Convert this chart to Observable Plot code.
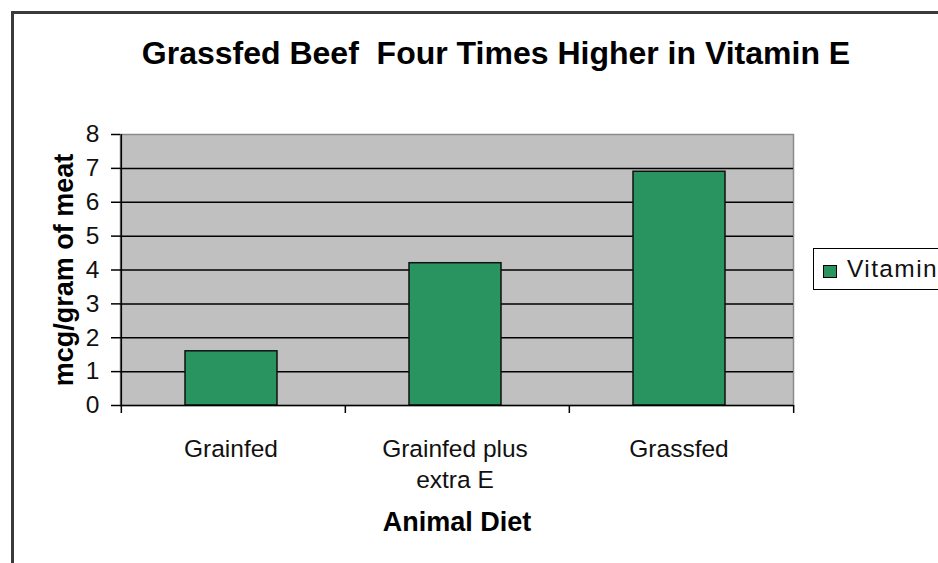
<!DOCTYPE html>
<html>
<head>
<meta charset="utf-8">
<script src="https://cdn.jsdelivr.net/npm/d3@7"></script>
<script src="https://cdn.jsdelivr.net/npm/@observablehq/plot@0.6"></script>
<style>
  body { margin: 0; background: #fff; font-family: "Liberation Sans", Arial, sans-serif; }
  #wrap { position: relative; width: 938px; height: 563px; overflow: hidden; background: #fff; }
  #border { position: absolute; left: 11px; top: 11px; width: 1200px; height: 1200px;
            border-left: 3px solid #3a3a3a; border-top: 3px solid #3a3a3a; box-sizing: border-box; }
  #chart { position: absolute; left: 0; top: 0; }
  #title { position: absolute; left: 0; top: 38px; width: 992px; text-align: center;
           font-weight: bold; font-size: 32px; line-height: 31px; color: #000; white-space: pre; }
  #legend { position: absolute; left: 813px; top: 248px; width: 300px; height: 42px;
            border: 1.5px solid #000; box-sizing: border-box; background: #fff; }
  #legend .sw { position: absolute; left: 9px; top: 16px; width: 14px; height: 13px;
                background: #2a9460; border: 1.5px solid #000; box-sizing: border-box; }
  #legend .lb { position: absolute; left: 33px; top: 7px; font-size: 24.5px; line-height: 26px;
                letter-spacing: 1.4px; color: #111; white-space: nowrap; }
</style>
</head>
<body>
<div id="wrap">
  <div id="chart"></div>
  <div id="border"></div>
  <div id="title"></div>
  <div id="legend"><div class="sw"></div><div class="lb"></div></div>
</div>
<script>
const chartTitle = "Grassfed Beef  Four Times Higher in Vitamin E";
const categories = ["Grainfed", "Grainfed plus extra E", "Grassfed"];
const tickLabels = ["Grainfed", "Grainfed plus\nextra E", "Grassfed"];
const values = [1.6, 4.2, 6.9];
const yTicks = [0, 1, 2, 3, 4, 5, 6, 7, 8];
const xTitle = "Animal Diet";
const yTitle = "mcg/gram of meat";
const seriesName = "Vitamin";

const data = categories.map((c, i) => ({diet: c, value: values[i], label: tickLabels[i]}));

const W = 938, H = 563, mL = 120, mR = 145, mT = 134, mB = 158;
const bw = (W - mL - mR) / categories.length;
const font = "'Liberation Sans', Arial, sans-serif";

document.getElementById("title").textContent = chartTitle;
document.querySelector("#legend .lb").textContent = seriesName;

const chart = Plot.plot({
  width: W, height: H,
  marginLeft: mL, marginRight: mR, marginTop: mT, marginBottom: mB,
  style: {fontFamily: font, fontSize: "24.5px", color: "#000", background: "transparent", overflow: "visible"},
  x: {domain: categories, padding: 0, axis: null},
  y: {domain: [0, 8], axis: null},
  marks: [
    Plot.frame({fill: "#c0c0c0", stroke: "#8a8a8a", strokeWidth: 1.5}),
    Plot.ruleY(yTicks.filter(d => d > 0 && d < 8), {stroke: "#000", strokeWidth: 1.5}),
    Plot.barY(data, {x: "diet", y: "value", fill: "#2a9460", stroke: "#111", strokeWidth: 1.5, insetLeft: 64, insetRight: 68}),
    Plot.ruleY([0], {stroke: "#000", strokeWidth: 1.5}),
    Plot.ruleX([categories[0]], {dx: -bw / 2, insetBottom: -8, stroke: "#000", strokeWidth: 1.5}),
    Plot.ruleX(categories.slice(1), {dx: -bw / 2, y1: 0, y2: 0, insetBottom: -8, stroke: "#000", strokeWidth: 1.5}),
    Plot.ruleX([categories[categories.length - 1]], {dx: bw / 2, y1: 0, y2: 0, insetBottom: -8, stroke: "#000", strokeWidth: 1.5}),
    Plot.axisY(yTicks, {anchor: "left", tickSize: 9, tickPadding: 12, stroke: "#000", strokeWidth: 1.5, fill: "#111", fontSize: 24.5, label: null}),
    Plot.text(data, {x: "diet", text: "label", frameAnchor: "bottom", lineAnchor: "top", dy: 29, dx: -2.5, lineHeight: 1.27, fontSize: 24.5, fill: "#111"}),
    Plot.text([xTitle], {frameAnchor: "bottom", lineAnchor: "top", dy: 106, fontSize: 27, fontWeight: "bold", fill: "#000"}),
    Plot.text([yTitle], {frameAnchor: "left", rotate: -90, dx: -56, lineAnchor: "middle", textAnchor: "middle", fontSize: 27, fontWeight: "bold", fill: "#000"})
  ]
});
document.getElementById("chart").appendChild(chart);
</script>
</body>
</html>
